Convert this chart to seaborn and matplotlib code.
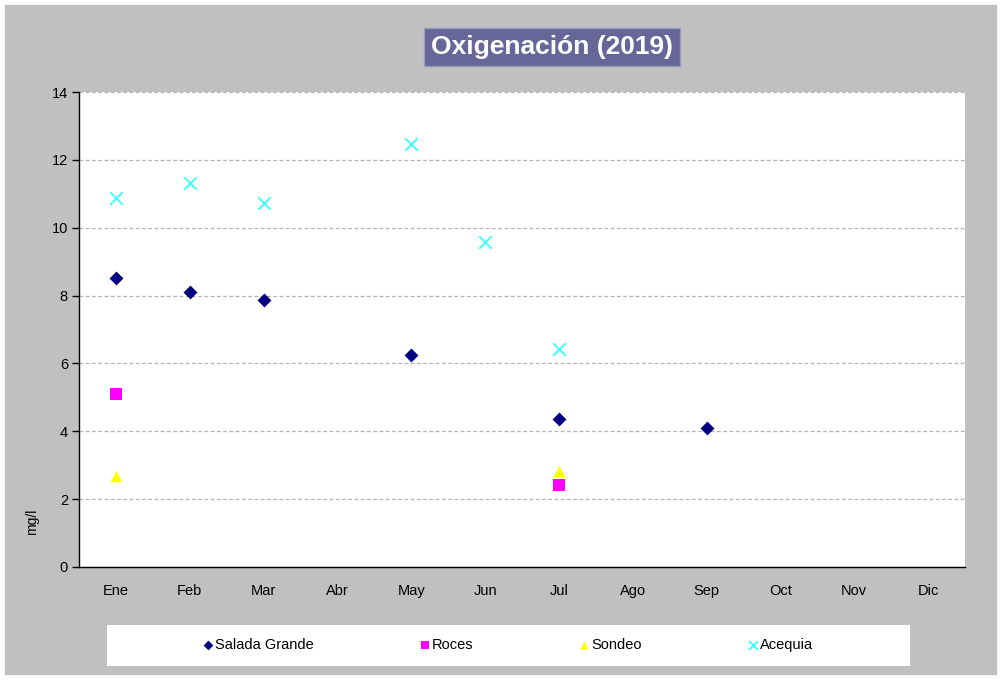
import numpy as np
import pandas as pd
import matplotlib
matplotlib.use('Agg')
import matplotlib.pyplot as plt
from matplotlib.patches import Rectangle
import seaborn as sns

# Datos
meses = ['Ene', 'Feb', 'Mar', 'Abr', 'May', 'Jun', 'Jul', 'Ago', 'Sep', 'Oct', 'Nov', 'Dic']

salada_mes = ['Ene', 'Feb', 'Mar', 'May', 'Jul', 'Sep']
salada_val = [8.52, 8.10, 7.87, 6.25, 4.36, 4.10]

roces_mes = ['Ene', 'Jul']
roces_val = [5.10, 2.42]

sondeo_mes = ['Ene', 'Jul']
sondeo_val = [2.68, 2.82]

acequia_mes = ['Ene', 'Feb', 'Mar', 'May', 'Jun', 'Jul']
acequia_val = [10.88, 11.32, 10.73, 12.47, 9.58, 6.42]

series = [
    ('Salada Grande', salada_mes, salada_val),
    ('Roces', roces_mes, roces_val),
    ('Sondeo', sondeo_mes, sondeo_val),
    ('Acequia', acequia_mes, acequia_val),
]

df = pd.concat([
    pd.DataFrame({'serie': name, 'mes': m, 'valor': v})
    for name, m, v in series
], ignore_index=True)
df['pos'] = df['mes'].map({m: i for i, m in enumerate(meses)})

sns.set_theme(style='white')
plt.rcParams['font.family'] = ['Liberation Sans', 'DejaVu Sans']

fig = plt.figure(figsize=(10.02, 6.80), dpi=100)
fig.patch.set_facecolor('#C0C0C0')
# borde blanco exterior
fig.patches.append(Rectangle((0, 0), 1, 1, transform=fig.transFigure,
                             facecolor='none', edgecolor='white', linewidth=7,
                             zorder=0))

ax = fig.add_axes([79 / 1002, 113 / 680, 886 / 1002, 475 / 680])
ax.set_facecolor('white')
ax.set_zorder(2)

palette = {'Salada Grande': '#000080', 'Roces': '#FF00FF',
           'Sondeo': '#FFFF00', 'Acequia': '#33FFFF'}
markers = {'Salada Grande': 'D', 'Roces': 's', 'Sondeo': '^', 'Acequia': 'x'}
sizes = {'Salada Grande': 50, 'Roces': 70, 'Sondeo': 70, 'Acequia': 80}

for name, _, _ in series:
    sub = df[df['serie'] == name]
    sns.scatterplot(data=sub, x='pos', y='valor', ax=ax, color=palette[name],
                    marker=markers[name], s=sizes[name], label=name,
                    linewidth=1.3 if name == 'Acequia' else 0, zorder=3)

ax.set_xlim(-0.5, 11.5)
ax.set_ylim(0, 14)
ax.set_yticks(np.arange(0, 15, 2))
ax.set_xticks(np.arange(12))
ax.set_xticklabels(meses)
ax.set_xticks(np.arange(-0.5, 12, 1), minor=True)
ax.tick_params(axis='x', which='major', length=0, pad=12, labelsize=10.5,
               labelcolor='black')
ax.tick_params(axis='x', which='minor', length=5, width=1, color='black', direction='out')
ax.tick_params(axis='y', length=5, width=1, color='black', direction='out',
               labelsize=10.5, pad=3, left=True, labelcolor='black')
ax.grid(axis='y', color='#B4B4B4', linestyle=(0, (3, 2)), linewidth=0.9)
ax.set_axisbelow(True)

for s in ['top', 'right']:
    ax.spines[s].set_visible(False)
for s in ['left', 'bottom']:
    ax.spines[s].set_color('black')
    ax.spines[s].set_linewidth(1)

ax.set_xlabel('')
ax.set_ylabel('mg/l', fontsize=10, color='black')
ax.yaxis.set_label_coords(-0.045, 0.095)

# Leyenda
handles, labels = ax.get_legend_handles_labels()
ax.get_legend().remove()
fig.patches.append(Rectangle((107 / 1002, 14 / 680), 803 / 1002, 41 / 680,
                             transform=fig.transFigure, facecolor='white',
                             edgecolor='none', zorder=1))
leg = fig.legend(handles, labels, loc='center', ncol=4,
                 bbox_to_anchor=(507 / 1002, 1 - 645 / 680),
                 frameon=False, fontsize=10.5, columnspacing=7.1,
                 handletextpad=0.0, handlelength=1.0, markerscale=0.7)
leg.set_zorder(3)
for t in leg.get_texts():
    t.set_color('black')

# Titulo
fig.text(552 / 1002, 1 - 47 / 680, 'Oxigenación (2019)', ha='center', va='center',
         fontsize=19, fontweight='bold', color='white',
         bbox=dict(boxstyle='square,pad=0.25', facecolor='#666699', edgecolor='#9999BB'))

fig.savefig('out.png', dpi=100, facecolor=fig.get_facecolor())
